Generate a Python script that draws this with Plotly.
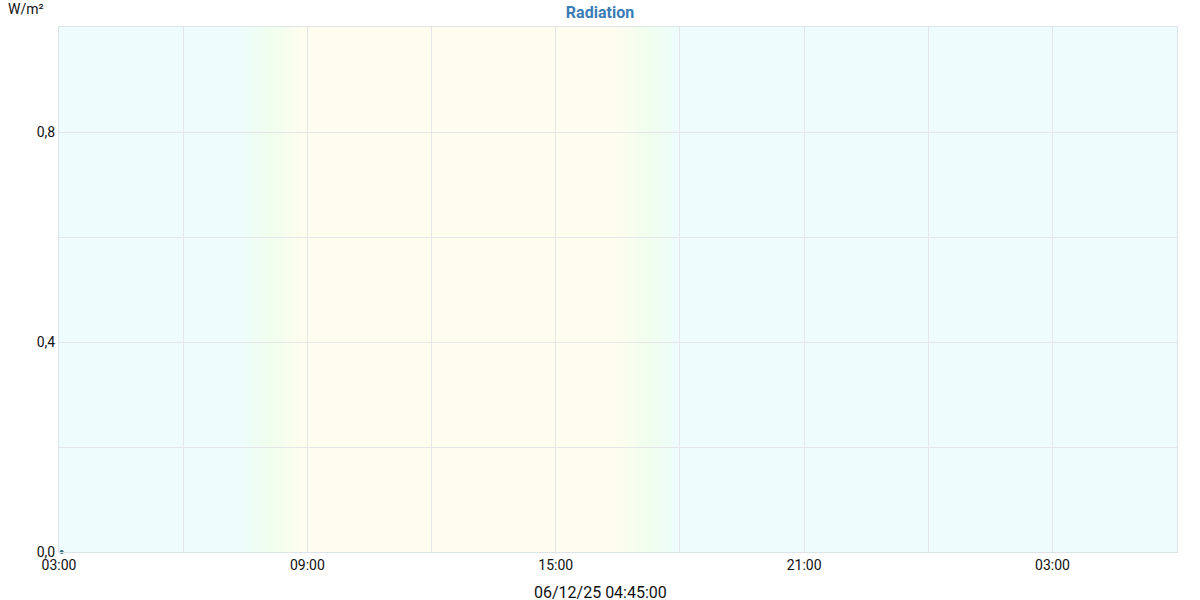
import plotly.graph_objects as go
from datetime import datetime, timedelta

# data
times = ["2025-12-06 03:04:00"]
radiation = [0.0]
x_range = ["2025-12-06 03:00:00", "2025-12-07 06:00:30"]
y_range = [0, 1.0]
y_tick_vals = [0.0, 0.4, 0.8]
y_tick_text = ["0,0", "0,4", "0,8"]
# twilight / day periods
dawn_start, day_start = "2025-12-06 07:20:00", "2025-12-06 08:50:00"
day_end, dusk_end = "2025-12-06 16:30:00", "2025-12-06 18:00:00"
stamp = "06/12/25 04:45:00"

CYAN = (238, 252, 253)
GREEN = (240, 254, 238)
YELLOW = (254, 253, 238)

def lerp(c1, c2, t):
    return tuple(round(a + (b - a) * t) for a, b in zip(c1, c2))

def ramp(t):
    if t < 0.5:
        return lerp(CYAN, GREEN, t / 0.5)
    return lerp(GREEN, YELLOW, (t - 0.5) / 0.5)

fig = go.Figure()
fig.add_trace(go.Scatter(x=times, y=radiation, mode="markers", cliponaxis=False,
                         marker=dict(size=4, color="#2f6f7f"), showlegend=False))

shapes = []
fmt = "%Y-%m-%d %H:%M:%S"
def strips(a, b, rising):
    ta, tb = datetime.strptime(a, fmt), datetime.strptime(b, fmt)
    n = 24
    step = (tb - ta) / n
    for i in range(n):
        t = (i + 0.5) / n
        c = ramp(t if rising else 1 - t)
        shapes.append(dict(type="rect", xref="x", yref="paper",
                           x0=ta + step * i, x1=ta + step * (i + 1) + timedelta(seconds=30),
                           y0=0, y1=1, fillcolor="rgb(%d,%d,%d)" % c,
                           line=dict(width=0), layer="below"))
strips(dawn_start, day_start, True)
shapes.append(dict(type="rect", xref="x", yref="paper", x0=day_start, x1=day_end,
                   y0=0, y1=1, fillcolor="rgb(%d,%d,%d)" % YELLOW,
                   line=dict(width=0), layer="below"))
strips(day_end, dusk_end, False)

fig.update_layout(
    width=1200, height=600,
    margin=dict(l=59, r=23, t=27, b=48),
    paper_bgcolor="white",
    plot_bgcolor="rgb(%d,%d,%d)" % CYAN,
    font=dict(family="Roboto", size=14, color="#222"),
    title=dict(text="<b>Radiation</b>", x=0.5, xanchor="center", y=0.98, yanchor="middle",
               font=dict(family="Roboto", size=16, color="#3a7cb6")),
    separators=",.",
    shapes=shapes,
    showlegend=False,
    xaxis=dict(type="date", range=x_range, dtick=6 * 3600000, tick0="2025-12-06 03:00:00",
               tickformat="%H:%M", showgrid=True, gridcolor="#e4e6e8", gridwidth=1,
               minor=dict(dtick=3 * 3600000, tick0="2025-12-06 03:00:00", showgrid=True,
                          gridcolor="#e4e6e8"),
               showline=True, linecolor="#dce4e8", mirror=True, zeroline=False,
               automargin=False,
               ticks="", tickfont=dict(size=14, color="#111")),
    yaxis=dict(range=y_range, tickvals=y_tick_vals, ticktext=y_tick_text,
               showgrid=True, gridcolor="#e4e6e8",
               minor=dict(dtick=0.2, showgrid=True, gridcolor="#e4e6e8"),
               showline=True, linecolor="#dce4e8", mirror=True, zeroline=False,
               automargin=False,
               ticks="", tickfont=dict(size=14, color="#111")),
    annotations=[
        dict(text="W/m²", xref="paper", yref="paper", x=-0.047, y=1.0,
             xanchor="left", yanchor="bottom", yshift=8, showarrow=False,
             font=dict(size=14, color="#111")),
        dict(text=stamp, xref="paper", yref="paper", x=(600 - 59) / 1118, y=0,
             xanchor="center", yanchor="middle", yshift=-40, showarrow=False,
             font=dict(size=16, color="#111")),
    ],
)

fig.write_html("out.html", post_script="document.body.style.margin='0';",
               config={"displayModeBar": False})
